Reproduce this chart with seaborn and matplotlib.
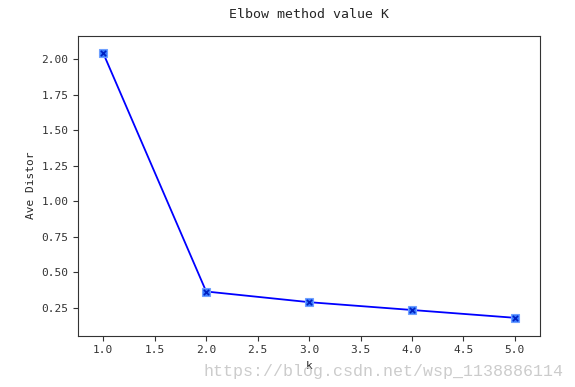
import matplotlib
matplotlib.use("Agg")
import matplotlib.pyplot as plt
import seaborn as sns

k_values = [1, 2, 3, 4, 5]
ave_distor = [2.04, 0.365, 0.29, 0.235, 0.18]

sns.set_style("ticks")
plt.rcParams['font.family'] = ['DejaVu Sans Mono', 'DejaVu Sans']
plt.rcParams['font.size'] = 8

fig = plt.figure(figsize=(5.75, 3.87), dpi=100)
ax = fig.add_axes([0.136, 0.133, 0.803, 0.775])

sns.lineplot(x=k_values, y=ave_distor, ax=ax, color='blue', linewidth=1.3,
             marker='s', markersize=6, markerfacecolor='#3a7bff',
             markeredgecolor='#6fa0ff', markeredgewidth=0.8)
ax.scatter(k_values, ave_distor, marker='x', color='#0020c0', s=14, linewidths=1.2, zorder=5)
ax.margins(x=0.061, y=0.067)

# the "k" label sits under the watermark, as in the original screenshot
ax.set_title('Elbow method value K', fontsize=9.5, pad=13)
ax.set_xlabel('k', fontsize=8, labelpad=4)
ax.set_ylabel('Ave Distor', fontsize=8)
ax.tick_params(labelsize=8, colors='#333333')
for s in ax.spines.values():
    s.set_color('#333333')

fig.text(0.98, 0.02, 'https://blog.csdn.net/wsp_1138886114', ha='right', va='bottom',
         fontsize=12, color='#cccccc', family='Liberation Mono')

fig.savefig('out.png', dpi=100)
